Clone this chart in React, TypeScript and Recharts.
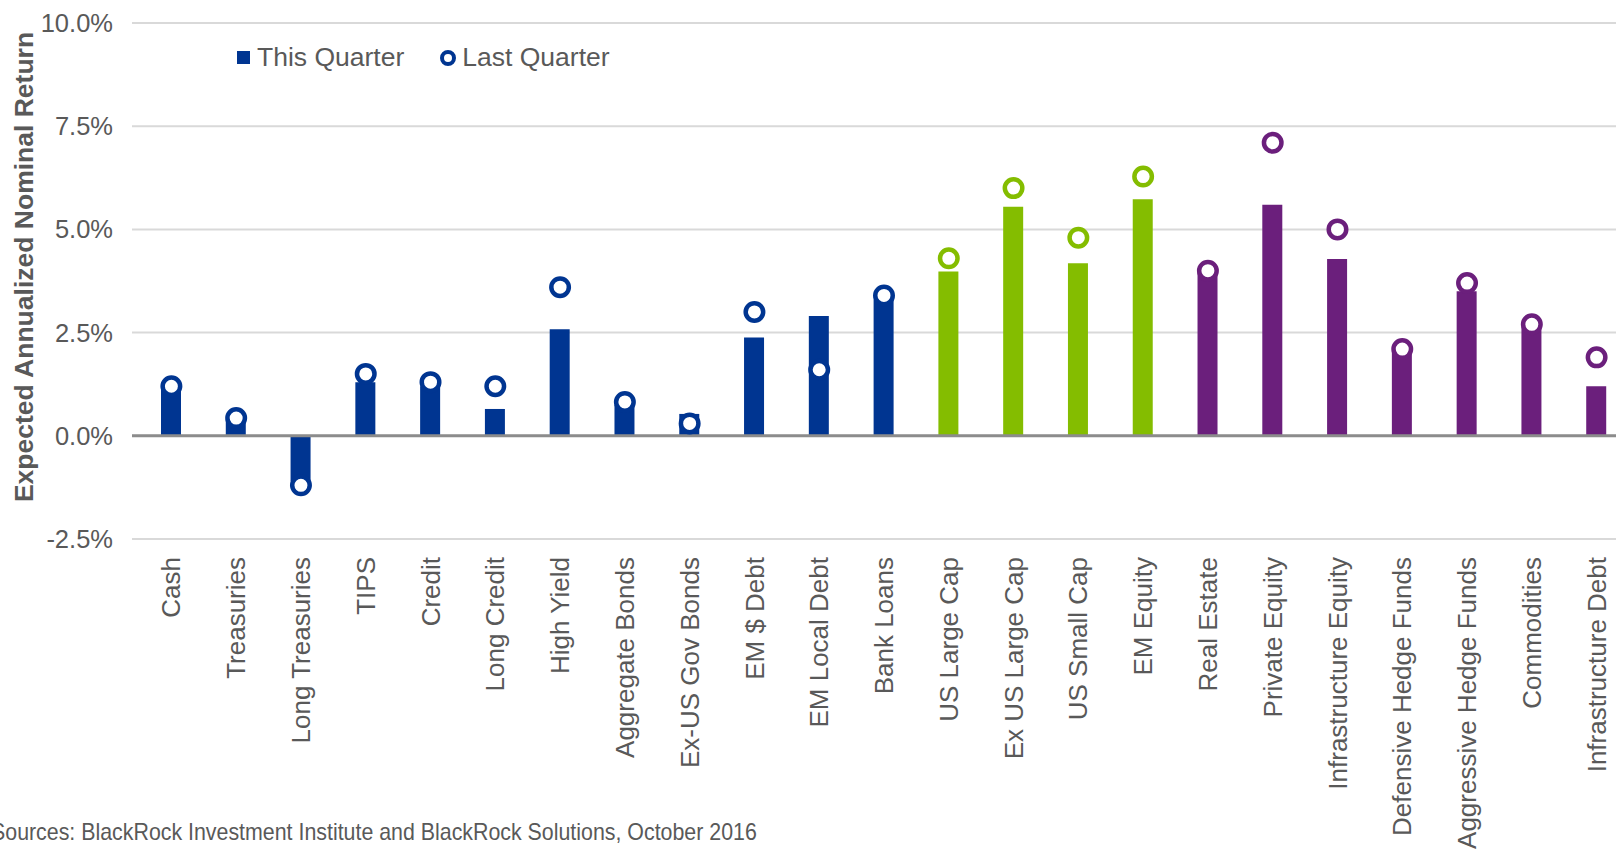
import { ComposedChart, Bar, Scatter, XAxis, YAxis, CartesianGrid, ReferenceLine, Cell } from 'recharts';

const categories = [
  'Cash', 'Treasuries', 'Long Treasuries', 'TIPS', 'Credit', 'Long Credit', 'High Yield',
  'Aggregate Bonds', 'Ex-US Gov Bonds', 'EM $ Debt', 'EM Local Debt', 'Bank Loans',
  'US Large Cap', 'Ex US Large Cap', 'US Small Cap', 'EM Equity',
  'Real Estate', 'Private Equity', 'Infrastructure Equity', 'Defensive Hedge Funds',
  'Aggressive Hedge Funds', 'Commodities', 'Infrastructure Debt',
];

const thisQuarter = [1.2, 0.4, -1.1, 1.3, 1.2, 0.65, 2.58, 0.75, 0.53, 2.38, 2.9, 3.3, 3.98, 5.55, 4.18, 5.73, 3.95, 5.6, 4.28, 2.05, 3.5, 2.65, 1.2];
const lastQuarter = [1.2, 0.43, -1.2, 1.5, 1.3, 1.2, 3.6, 0.82, 0.3, 3.0, 1.6, 3.4, 4.3, 6.0, 4.8, 6.28, 4.0, 7.1, 5.0, 2.1, 3.7, 2.7, 1.9];
const groups = [
  'bonds', 'bonds', 'bonds', 'bonds', 'bonds', 'bonds', 'bonds', 'bonds', 'bonds', 'bonds', 'bonds', 'bonds',
  'equity', 'equity', 'equity', 'equity',
  'alts', 'alts', 'alts', 'alts', 'alts', 'alts', 'alts',
];
const yTicks = [-2.5, 0, 2.5, 5, 7.5, 10];

const groupColor: Record<string, string> = { bonds: '#003591', equity: '#84BD00', alts: '#6B1F7C' };
const textColor = '#595959';
const font = '"Liberation Sans", Arial, sans-serif';

const data = categories.map((name, i) => ({
  name,
  current: thisQuarter[i],
  last: lastQuarter[i],
  color: groupColor[groups[i]],
}));

const CategoryTick = ({ x, y, payload }: any) => (
  <text
    x={x}
    y={y}
    dy="0.35em"
    transform={`rotate(-90, ${x}, ${y})`}
    textAnchor="end"
    fill={textColor}
    fontSize={26}
    fontFamily={font}
  >
    {payload.value}
  </text>
);

const Ring = ({ cx, cy, payload }: any) => (
  <circle cx={cx} cy={cy} r={8.75} fill="#ffffff" stroke={payload.color} strokeWidth={4.5} />
);

// legend sits inside the plot, drawn as plain html so it does not shrink the plot
const ChartLegend = () => (
  <div
    style={{
      position: 'absolute',
      left: 237,
      top: 42,
      display: 'flex',
      alignItems: 'center',
      fontFamily: font,
      fontSize: 26.5,
      color: textColor,
      whiteSpace: 'nowrap',
    }}
  >
    <span style={{ display: 'inline-block', width: 13, height: 13, background: groupColor.bonds, marginRight: 7 }} />
    <span>This Quarter</span>
    <span
      style={{
        display: 'inline-block',
        width: 8,
        height: 8,
        borderRadius: '50%',
        border: `4px solid ${groupColor.bonds}`,
        marginLeft: 36,
        marginRight: 6,
      }}
    />
    <span>Last Quarter</span>
  </div>
);

export default function App() {
  return (
    <div style={{ position: 'fixed', left: 0, top: 0, width: 1616, height: 852, overflow: 'hidden', background: '#fff' }}>
      <ComposedChart width={1629} height={852} data={data} margin={{ top: 23, right: 0, left: 0, bottom: 0 }}>
        <CartesianGrid vertical={false} stroke="#d9d9d9" strokeWidth={2} />
        <XAxis
          dataKey="name"
          interval={0}
          height={313}
          axisLine={false}
          tickLine={false}
          padding={{ left: 7, right: 0 }}
          tick={<CategoryTick />}
          tickMargin={12}
        />
        <YAxis
          width={132}
          domain={[-2.5, 10]}
          ticks={yTicks}
          axisLine={false}
          tickLine={false}
          tickSize={0}
          tickMargin={19}
          tickFormatter={(v: number) => `${v.toFixed(1)}%`}
          tick={{ fill: textColor, fontSize: 25.5, fontFamily: font }}
          label={{
            content: () => (
              <text
                x={24}
                y={267}
                dy="0.35em"
                transform="rotate(-90, 24, 267)"
                textAnchor="middle"
                fill={textColor}
                fontSize={26.5}
                fontWeight="bold"
                fontFamily={font}
              >
                Expected Annualized Nominal Return
              </text>
            ),
          }}
        />
        <Bar dataKey="current" name="This Quarter" barSize={20} isAnimationActive={false}>
          {data.map((d) => (
            <Cell key={d.name} fill={d.color} />
          ))}
        </Bar>
        <ReferenceLine y={0} stroke="#8c8c8c" strokeWidth={3} />
        <Scatter dataKey="last" name="Last Quarter" shape={<Ring />} isAnimationActive={false} />
      </ComposedChart>
      <ChartLegend />
      <div
        style={{
          position: 'absolute',
          left: -9,
          top: 818,
          fontFamily: font,
          fontSize: 24,
          color: textColor,
          whiteSpace: 'nowrap',
          transform: 'scaleX(0.89)',
          transformOrigin: 'left center',
        }}
      >
        Sources: BlackRock Investment Institute and BlackRock Solutions, October 2016
      </div>
    </div>
  );
}
